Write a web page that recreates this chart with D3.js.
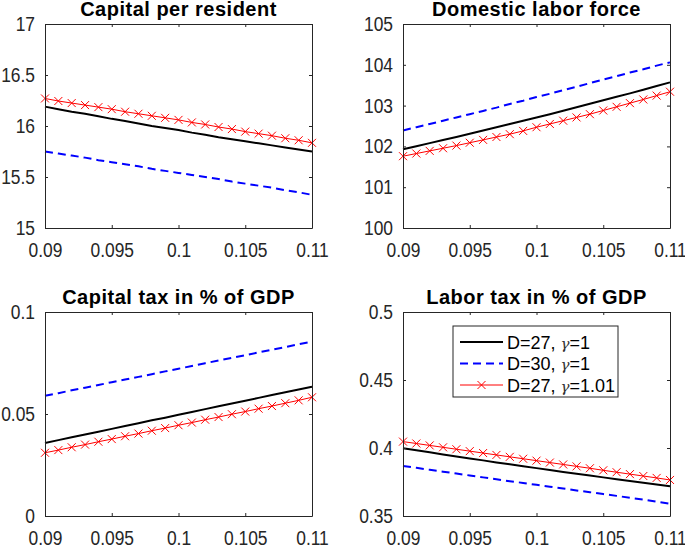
<!DOCTYPE html>
<html><head><meta charset="utf-8">
<script src="https://cdn.jsdelivr.net/npm/d3@7"></script>
<style>body{margin:0;background:#fff}svg{display:block}</style>
</head><body>
<svg id="c" width="685" height="545"></svg>
<script>
const xValues = [0.090,0.091,0.092,0.093,0.094,0.095,0.096,0.097,0.098,0.099,0.100,0.101,0.102,0.103,0.104,0.105,0.106,0.107,0.108,0.109,0.110];
const xTicks = [0.09,0.095,0.1,0.105,0.11];
const xTickLabels = ["0.09","0.095","0.1","0.105","0.11"];

const titles = ["Capital per resident","Domestic labor force","Capital tax in % of GDP","Labor tax in % of GDP"];
const seriesNames = ["D=27, γ=1","D=30, γ=1","D=27, γ=1.01"];

// Capital per resident
const capD27 = [16.19,16.165,16.14,16.12,16.095,16.07,16.05,16.025,16.00,15.98,15.96,15.935,15.915,15.89,15.87,15.85,15.83,15.81,15.79,15.77,15.75];
const capD30 = [15.75,15.73,15.71,15.69,15.665,15.645,15.625,15.605,15.58,15.56,15.54,15.52,15.50,15.48,15.455,15.435,15.415,15.395,15.37,15.35,15.325];
const capG101 = [16.27,16.245,16.225,16.205,16.185,16.165,16.14,16.12,16.10,16.08,16.06,16.035,16.015,15.99,15.97,15.945,15.925,15.905,15.88,15.86,15.835];
const capYTicks = [15,15.5,16,16.5,17];
const capYLabels = ["15","15.5","16","16.5","17"];

// Domestic labor force
const labD27 = [101.93,102.005,102.08,102.155,102.23,102.31,102.39,102.47,102.55,102.63,102.71,102.79,102.875,102.96,103.045,103.13,103.215,103.30,103.39,103.48,103.57];
const labD30 = [102.39,102.47,102.55,102.63,102.71,102.79,102.87,102.95,103.04,103.12,103.21,103.29,103.38,103.46,103.55,103.64,103.72,103.81,103.89,103.98,104.06];
const labG101 = [101.76,101.825,101.89,101.955,102.02,102.09,102.16,102.23,102.30,102.38,102.47,102.55,102.63,102.71,102.79,102.88,102.97,103.06,103.15,103.245,103.34];
const labYTicks = [100,101,102,103,104,105];
const labYLabels = ["100","101","102","103","104","105"];

// Capital tax in % of GDP
const ktxD27 = [0.0358,0.0372,0.0386,0.0400,0.0413,0.0427,0.0441,0.0455,0.0469,0.0482,0.0496,0.0510,0.0524,0.0538,0.0551,0.0565,0.0579,0.0593,0.0607,0.0620,0.0634];
const ktxD30 = [0.0589,0.0602,0.0616,0.0629,0.0642,0.0656,0.0669,0.0682,0.0695,0.0709,0.0722,0.0735,0.0749,0.0762,0.0775,0.0788,0.0802,0.0815,0.0828,0.0842,0.0855];
const ktxG101 = [0.0310,0.0323,0.0337,0.0350,0.0364,0.0377,0.0391,0.0404,0.0418,0.0431,0.0445,0.0458,0.0472,0.0485,0.0499,0.0512,0.0526,0.0539,0.0553,0.0567,0.0582];
const ktxYTicks = [0,0.05,0.1];
const ktxYLabels = ["0","0.05","0.1"];

// Labor tax in % of GDP
const ltxD27 = [0.3998,0.3983,0.3968,0.3953,0.3938,0.3923,0.3909,0.3894,0.3880,0.3866,0.3852,0.3838,0.3824,0.3810,0.3797,0.3784,0.3771,0.3758,0.3745,0.3732,0.3719];
const ltxD30 = [0.3868,0.3854,0.3840,0.3826,0.3812,0.3798,0.3784,0.3770,0.3756,0.3743,0.3729,0.3715,0.3702,0.3688,0.3675,0.3661,0.3648,0.3634,0.3621,0.3605,0.3591];
const ltxG101 = [0.4047,0.4033,0.4019,0.4005,0.3991,0.3977,0.3963,0.3949,0.3935,0.3921,0.3907,0.3893,0.3879,0.3865,0.3851,0.3836,0.3822,0.3808,0.3794,0.3780,0.3765];
const ltxYTicks = [0.35,0.4,0.45,0.5];
const ltxYLabels = ["0.35","0.4","0.45","0.5"];

const panels = [
  {title: titles[0], s: [capD27, capD30, capG101], yd: [15,17], yt: capYTicks, yl: capYLabels, box: [45,24,312,228]},
  {title: titles[1], s: [labD27, labD30, labG101], yd: [100,105], yt: labYTicks, yl: labYLabels, box: [403,24,670,228]},
  {title: titles[2], s: [ktxD27, ktxD30, ktxG101], yd: [0,0.1], yt: ktxYTicks, yl: ktxYLabels, box: [45,312,312,516]},
  {title: titles[3], s: [ltxD27, ltxD30, ltxG101], yd: [0.35,0.5], yt: ltxYTicks, yl: ltxYLabels, box: [403,312,670,516], legend: true}
];

const styles = [
  {color: "#000000", width: 2, dash: null, marker: false},
  {color: "#0000ff", width: 2, dash: "8,5", marker: false},
  {color: "#ff0000", width: 1, dash: null, marker: true}
];

const svg = d3.select("#c");
const axisColor = "#262626";
const font = "'Liberation Sans', Arial, Helvetica, sans-serif";
const tickFont = 20, squeeze = 0.87;

function crossPath(cx, cy, r) {
  return `M${cx-r},${cy-r}L${cx+r},${cy+r}M${cx-r},${cy+r}L${cx+r},${cy-r}`;
}

panels.forEach(p => {
  const [x0,y0,x1,y1] = p.box;
  const x = d3.scaleLinear().domain([0.09,0.11]).range([x0,x1]);
  const y = d3.scaleLinear().domain(p.yd).range([y1,y0]);
  const g = svg.append("g");

  // lines
  p.s.forEach((vals, i) => {
    const st = styles[i];
    const data = xValues.map((xv, j) => [xv, vals[j]]);
    const line = d3.line().x(d => x(d[0])).y(d => y(d[1]));
    g.append("path").attr("d", line(data)).attr("fill","none")
      .attr("stroke", st.color).attr("stroke-width", st.width)
      .attr("stroke-dasharray", st.dash);
    if (st.marker) {
      g.append("g").selectAll("path").data(data).join("path")
        .attr("d", d => crossPath(x(d[0]), y(d[1]), 4))
        .attr("stroke", st.color).attr("stroke-width", 1).attr("fill","none");
    }
  });

  // axes (MATLAB style: box with inward ticks)
  const tickLen = 3;
  const bottom = d3.axisBottom(x).tickValues(xTicks).tickSizeInner(-tickLen).tickSizeOuter(0)
    .tickPadding(15).tickFormat((d,i) => xTickLabels[i]);
  const top = d3.axisTop(x).tickValues(xTicks).tickSizeInner(-tickLen).tickSizeOuter(0).tickFormat("");
  const left = d3.axisLeft(y).tickValues(p.yt).tickSizeInner(-tickLen).tickSizeOuter(0)
    .tickPadding(10).tickFormat((d,i) => p.yl[i]);
  const right = d3.axisRight(y).tickValues(p.yt).tickSizeInner(-tickLen).tickSizeOuter(0).tickFormat("");
  [[bottom,`translate(0,${y1})`,"b"],[top,`translate(0,${y0})`,"t"],[left,`translate(${x0},0)`,"l"],[right,`translate(${x1},0)`,"r"]]
    .forEach(([a,t,k]) => {
      const gg = g.append("g").attr("transform", t).call(a);
      gg.selectAll(".domain").attr("stroke", axisColor).attr("stroke-width", 1);
      gg.selectAll(".tick line").attr("stroke", axisColor);
      const txt = gg.selectAll("text").attr("fill", axisColor).attr("font-family", font).attr("font-size", tickFont);
      if (k === "l") {
        txt.attr("transform", `translate(${txt.attr("x")},0) scale(${squeeze},1)`).attr("x", 0);
      } else if (k === "b") {
        txt.attr("transform", `scale(${squeeze},1)`);
      }
    });

  // title
  g.append("text").attr("x", (x0+x1)/2).attr("y", y0 - 8)
    .attr("text-anchor","middle").attr("font-family", font).attr("font-weight","bold")
    .attr("font-size", 20).attr("letter-spacing", 0.5).attr("fill","#000").text(p.title);

  if (p.legend) {
    const lx = 453, ly = 326, lw = 165, lh = 71;
    const lg = g.append("g");
    lg.append("rect").attr("x", lx).attr("y", ly).attr("width", lw).attr("height", lh)
      .attr("fill","#fff").attr("stroke", axisColor).attr("stroke-width", 1);
    seriesNames.forEach((name, i) => {
      const st = styles[i];
      const ry = ly + 16 + i * 21.5;
      lg.append("line").attr("x1", 460).attr("x2", 503).attr("y1", ry).attr("y2", ry)
        .attr("stroke", st.color).attr("stroke-width", st.width).attr("stroke-dasharray", st.dash);
      if (st.marker) lg.append("path").attr("d", crossPath(481.5, ry, 4)).attr("stroke", st.color).attr("fill","none");
      const parts = name.split("γ");
      const t = lg.append("text").attr("x", 507).attr("y", ry + 6.5).attr("font-family", font)
        .attr("font-size", 18).attr("fill", "#000");
      t.append("tspan").text(parts[0]);
      t.append("tspan").attr("font-style","italic").attr("font-family","'DejaVu Serif', serif").attr("font-size", 15).attr("fill","#333").text("γ");
      t.append("tspan").text(parts[1]);
    });
  }
});
</script>
</body></html>
